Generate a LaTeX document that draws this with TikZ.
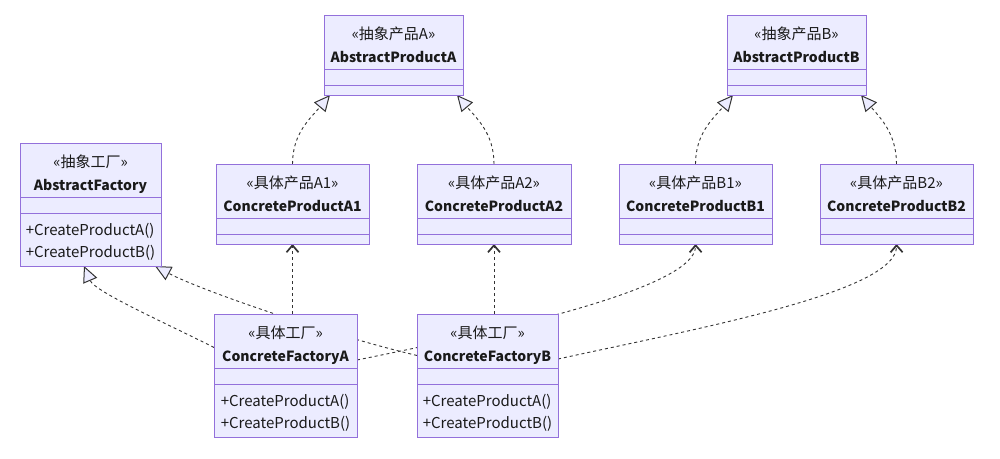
\documentclass[tikz,border=0pt]{standalone}
\usepackage{fontspec}
\setmainfont{Noto Sans CJK SC}
\usetikzlibrary{arrows.meta, backgrounds}
\definecolor{clsfill}{HTML}{ECECFF}
\definecolor{clsline}{HTML}{9370DB}
\definecolor{edgeline}{HTML}{333333}
\definecolor{txt}{HTML}{1A1A1A}

\begin{document}
\begin{tikzpicture}[
    x=1pt, y=-1pt,
    cls/.style={rectangle, draw=clsline, fill=clsfill, line width=1pt, inner sep=0pt, outer sep=0pt},
    stereo/.style={anchor=base, inner sep=0pt, text=txt, font=\fontsize{15}{18}\selectfont},
    cname/.style={stereo, font=\fontsize{14}{18}\selectfont\bfseries},
    meth/.style={align=left, inner sep=0pt, text=txt, font=\fontsize{15}{22}\selectfont},
    sep/.style={draw=clsline, line width=1pt},
    real/.style={draw=edgeline, line width=0.9pt, dash pattern=on 3pt off 3pt, -{Triangle[fill=clsfill, length=16pt, width=15pt, line width=1pt]}},
    dep/.style={draw=edgeline, line width=0.9pt, dash pattern=on 3pt off 3pt, -{Straight Barb[length=7pt, width=12pt, line width=1.7pt]}},
]
\useasboundingbox (0,0) rectangle (1000,458);

\node[cls, minimum width=139, minimum height=80] (apa) at (393.5,55) {};
\node[cls, minimum width=139, minimum height=80] (apb) at (796.5,55) {};
\node[cls, minimum width=153, minimum height=80] (pa1) at (292.5,204) {};
\node[cls, minimum width=154, minimum height=80] (pa2) at (494,204) {};
\node[cls, minimum width=153, minimum height=80] (pb1) at (695.5,204) {};
\node[cls, minimum width=153, minimum height=80] (pb2) at (896.5,204) {};
\node[cls, minimum width=141, minimum height=123] (af) at (90.5,204.5) {};
\node[cls, minimum width=143, minimum height=123] (cfa) at (285.5,375.5) {};
\node[cls, minimum width=141, minimum height=123] (cfb) at (487.5,375.5) {};

\foreach \b in {apa,apb,pa1,pa2,pb1,pb2,af,cfa,cfb} {
    \draw[sep] ([yshift=-54pt]\b.north west) -- ([yshift=-54pt]\b.north east);
    \draw[sep] ([yshift=-70pt]\b.north west) -- ([yshift=-70pt]\b.north east);
}

\node[stereo] (apa-s) at ([yshift=-24.5pt]apa.north) {«抽象产品A»};
\node[cname] (apa-n) at ([yshift=-47pt]apa.north) {AbstractProductA};
\node[stereo] (apb-s) at ([yshift=-24.5pt]apb.north) {«抽象产品B»};
\node[cname] (apb-n) at ([yshift=-47pt]apb.north) {AbstractProductB};
\node[stereo] (pa1-s) at ([yshift=-24.5pt]pa1.north) {«具体产品A1»};
\node[cname] (pa1-n) at ([yshift=-47pt]pa1.north) {ConcreteProductA1};
\node[stereo] (pa2-s) at ([yshift=-24.5pt]pa2.north) {«具体产品A2»};
\node[cname] (pa2-n) at ([yshift=-47pt]pa2.north) {ConcreteProductA2};
\node[stereo] (pb1-s) at ([yshift=-24.5pt]pb1.north) {«具体产品B1»};
\node[cname] (pb1-n) at ([yshift=-47pt]pb1.north) {ConcreteProductB1};
\node[stereo] (pb2-s) at ([yshift=-24.5pt]pb2.north) {«具体产品B2»};
\node[cname] (pb2-n) at ([yshift=-47pt]pb2.north) {ConcreteProductB2};
\node[stereo] (af-s) at ([yshift=-24.5pt]af.north) {«抽象工厂»};
\node[cname] (af-n) at ([yshift=-47pt]af.north) {AbstractFactory};
\node[meth] (af-m) at ([yshift=-98.5pt]af.north) {+CreateProductA()\\+CreateProductB()};
\node[stereo] (cfa-s) at ([yshift=-24.5pt]cfa.north) {«具体工厂»};
\node[cname] (cfa-n) at ([yshift=-47pt]cfa.north) {ConcreteFactoryA};
\node[meth] (cfa-m) at ([yshift=-98.5pt]cfa.north) {+CreateProductA()\\+CreateProductB()};
\node[stereo] (cfb-s) at ([yshift=-24.5pt]cfb.north) {«具体工厂»};
\node[cname] (cfb-n) at ([yshift=-47pt]cfb.north) {ConcreteFactoryB};
\node[meth] (cfb-m) at ([yshift=-98.5pt]cfb.north) {+CreateProductA()\\+CreateProductB()};

\begin{scope}[on background layer]
\draw[real] (pa1.north) to[out=90, in=-130] ([xshift=6pt]apa.south west);
\draw[real] (pa2.north) to[out=90, in=-50] ([xshift=-6pt]apa.south east);
\draw[real] (pb1.north) to[out=90, in=-130] ([xshift=6pt]apb.south west);
\draw[real] (pb2.north) to[out=90, in=-50] ([xshift=-5pt]apb.south east);
\draw[dep] (pa1.south |- cfa.north) -- (pa1.south);
\draw[dep] (pa2.south |- cfb.north) -- (pa2.south);
\draw[dep] ([yshift=15.5pt]cfa.east) .. controls (480,335) and (696,290) .. (pb1.south);
\draw[dep] ([yshift=16.5pt]cfb.east) .. controls (700,328) and (897,292) .. (pb2.south);
\draw[real] ([yshift=28pt]cfa.west) .. controls (170,325) and (95,292) .. ([xshift=64pt]af.south west);
\draw[real] ([yshift=20pt]cfb.west) .. controls (330,335) and (200,290) .. ([xshift=-6pt]af.south east);
\end{scope}
\end{tikzpicture}
\end{document}
